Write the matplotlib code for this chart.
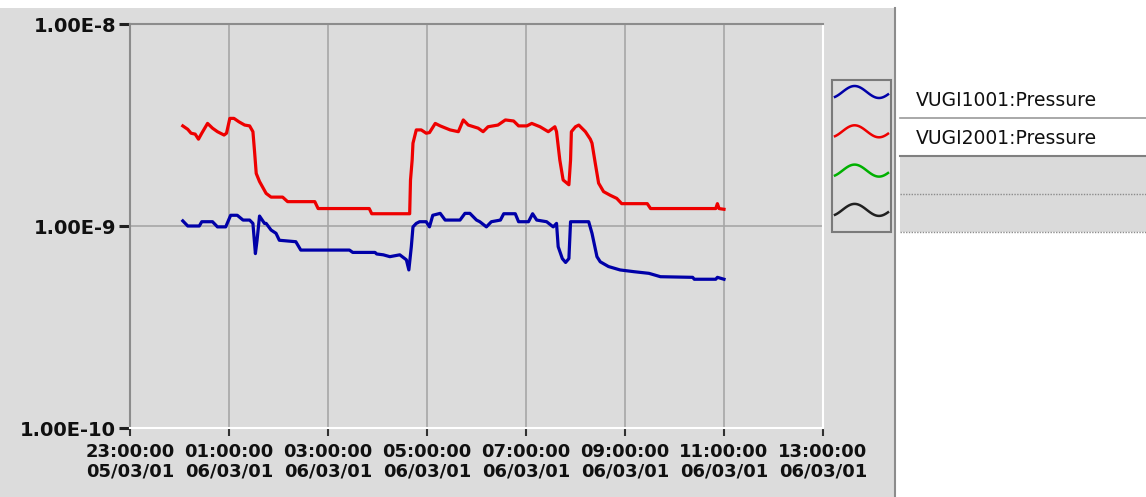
import numpy as np
import pandas as pd
import matplotlib
matplotlib.use("Agg")
import matplotlib.pyplot as plt
import matplotlib.dates as mdates
from matplotlib.patches import Rectangle
from matplotlib.ticker import FixedLocator, FuncFormatter, NullLocator

plt.rcParams["font.family"] = ["DejaVu Sans"]
plt.rcParams["hatch.color"] = "#9a9a9a"
plt.rcParams["hatch.linewidth"] = 0.8

DAY = "2001-03-06 "
series_names = ["VUGI1001:Pressure", "VUGI2001:Pressure"]
swatch_colors = ["#0000a8", "#ee0000", "#00b000", "#202020"]

# VUGI1001 (blue), values in units of 1e-9
vugi1001_times = ["00:04", "00:10", "00:24", "00:27", "00:40", "00:46", "00:56", "01:02",
                  "01:10", "01:17", "01:25", "01:29", "01:32", "01:34", "01:37", "01:43",
                  "01:45", "01:51", "01:57", "02:01", "02:21", "02:27", "03:26", "03:30",
                  "03:57", "03:59", "04:07", "04:15", "04:27", "04:33", "04:35", "04:38",
                  "04:41", "04:43", "04:47", "04:51", "04:59", "05:03", "05:07", "05:16",
                  "05:22", "05:40", "05:46", "05:52", "06:00", "06:04", "06:12", "06:18",
                  "06:29", "06:33", "06:47", "06:51", "07:03", "07:08", "07:13", "07:25",
                  "07:33", "07:37", "07:39", "07:44", "07:48", "07:52", "07:54", "08:16",
                  "08:20", "08:26", "08:30", "08:40", "08:54", "09:11", "09:29", "09:43",
                  "10:22", "10:24", "10:50", "10:52", "11:00"]
vugi1001_e9 = [1.06, 1.00, 1.00, 1.05, 1.05, 0.99, 0.99, 1.13,
               1.13, 1.07, 1.07, 1.03, 0.73, 0.85, 1.12, 1.03,
               1.03, 0.955, 0.92, 0.85, 0.836, 0.76, 0.76, 0.74,
               0.74, 0.727, 0.72, 0.705, 0.72, 0.69, 0.68, 0.606,
               0.79, 0.99, 1.03, 1.05, 1.05, 0.99, 1.13, 1.155,
               1.07, 1.07, 1.155, 1.155, 1.07, 1.05, 0.99, 1.05,
               1.07, 1.15, 1.15, 1.05, 1.05, 1.15, 1.07, 1.05,
               0.99, 1.03, 0.79, 0.69, 0.66, 0.69, 1.05, 1.05,
               0.92, 0.705, 0.665, 0.63, 0.606, 0.594, 0.583, 0.561,
               0.557, 0.545, 0.545, 0.557, 0.545]

# VUGI2001 (red), values in units of 1e-9
vugi2001_times = ["00:04", "00:10", "00:14", "00:19", "00:23", "00:27", "00:34", "00:40",
                  "00:46", "00:54", "00:57", "01:01", "01:06", "01:12", "01:19", "01:25",
                  "01:29", "01:31", "01:33", "01:37", "01:45", "01:51", "02:05", "02:11",
                  "02:44", "02:48", "03:50", "03:53", "04:39", "04:40", "04:42", "04:43",
                  "04:47", "04:53", "04:59", "05:03", "05:10", "05:16", "05:28", "05:38",
                  "05:44", "05:50", "06:02", "06:08", "06:14", "06:26", "06:35", "06:45",
                  "06:51", "07:01", "07:07", "07:17", "07:27", "07:35", "07:37", "07:41",
                  "07:45", "07:52", "07:54", "07:55", "08:00", "08:04", "08:06", "08:12",
                  "08:18", "08:20", "08:24", "08:28", "08:34", "08:42", "08:50", "08:56",
                  "09:27", "09:31", "10:50", "10:52", "10:54", "11:00"]
vugi2001_e9 = [3.13, 3.01, 2.88, 2.85, 2.69, 2.88, 3.22, 3.05,
               2.93, 2.82, 2.88, 3.41, 3.41, 3.28, 3.16, 3.13,
               2.93, 2.33, 1.82, 1.66, 1.45, 1.39, 1.39, 1.32,
               1.32, 1.22, 1.22, 1.15, 1.15, 1.69, 2.12, 2.57,
               2.99, 2.99, 2.88, 2.90, 3.22, 3.13, 2.99, 2.93,
               3.35, 3.16, 3.05, 2.93, 3.10, 3.16, 3.35, 3.31,
               3.13, 3.13, 3.22, 3.10, 2.93, 3.10, 2.93, 2.12,
               1.69, 1.60, 2.12, 2.93, 3.10, 3.16, 3.10, 2.93,
               2.69, 2.57, 2.04, 1.63, 1.48, 1.42, 1.37, 1.29,
               1.29, 1.22, 1.22, 1.29, 1.22, 1.21]

W, H = 1146, 497
fig = plt.figure(figsize=(W / 100, H / 100), dpi=100, facecolor="white")

# background panels drawn in pixel coordinates
bg = fig.add_axes([0, 0, 1, 1], zorder=0)
bg.set_xlim(0, W)
bg.set_ylim(H, 0)
bg.axis("off")
bg.add_patch(Rectangle((0, 8), 895, H - 8, facecolor="#dcdcdc", edgecolor="none"))
bg.plot([895, 895], [8, H], color="#8c8c8c", lw=1.5)

# legend swatches
bg.add_patch(Rectangle((832, 80), 59, 152, facecolor="#dcdcdc", edgecolor="#7a7a7a", lw=1.5))
t = np.linspace(0, 1, 80)
for i, c in enumerate(swatch_colors):
    yc = 92 + i * 39.3
    bg.plot(835 + 53 * t, yc - 6 * np.cos(2 * np.pi * (t - 0.37) / 0.92), color=c, lw=1.8)

# legend labels
for i, name in enumerate(series_names):
    bg.text(916, 100 + i * 38, name, fontsize=13.5, va="center", ha="left", color="#101010")
bg.plot([900, W], [118, 118], color="#9a9a9a", lw=1.2)
bg.add_patch(Rectangle((900, 157), W - 900, 75, facecolor="#dadada", edgecolor="none", hatch="......."))
bg.plot([900, W], [156, 156], color="#808080", lw=1.5)
bg.plot([900, W], [193.5, 193.5], color="#8c8c8c", lw=1, ls=(0, (1, 1)))
bg.plot([900, W], [232, 232], color="#8c8c8c", lw=1, ls=(0, (1, 1)))

# main chart
ax = fig.add_axes([130 / W, 69 / H, 693 / W, 404 / H], zorder=1)
ax.set_facecolor("#dcdcdc")
ax.set_yscale("log")
ax.set_ylim(1e-10, 1e-8)
ax.set_xlim(pd.Timestamp("2001-03-05 23:00"), pd.Timestamp("2001-03-06 13:00"))

t1 = pd.to_datetime([DAY + s for s in vugi1001_times])
t2 = pd.to_datetime([DAY + s for s in vugi2001_times])
ax.plot(t1, np.array(vugi1001_e9) * 1e-9, color="#0000a8", lw=2.3, zorder=3)
ax.plot(t2, np.array(vugi2001_e9) * 1e-9, color="#ee0000", lw=2.3, zorder=3)

ax.set_xticks(pd.date_range("2001-03-05 23:00", "2001-03-06 13:00", freq="2h"))
ax.xaxis.set_major_formatter(mdates.DateFormatter("%H:%M:%S\n%d/%m/%y"))
ax.yaxis.set_major_locator(FixedLocator([1e-10, 1e-9, 1e-8]))
ax.yaxis.set_minor_locator(NullLocator())
ax.yaxis.set_major_formatter(FuncFormatter(lambda v, p: f"{v:.2E}".replace("E-0", "E-")))

ax.grid(True, color="#a6a6a6", lw=1.2)
ax.set_axisbelow(True)
for side in ["top", "left"]:
    ax.spines[side].set_color("#8c8c8c")
    ax.spines[side].set_linewidth(1.5)
for side in ["bottom", "right"]:
    ax.spines[side].set_color("white")
    ax.spines[side].set_linewidth(1.5)

ax.tick_params(axis="x", length=6, width=1.5, color="#303030", pad=5,
               labelsize=13, labelcolor="#101010")
ax.tick_params(axis="y", length=8, width=2.2, color="#202020", pad=2,
               labelsize=14, labelcolor="#101010")
for tick in ax.xaxis.get_major_ticks():
    tick.label1.set_fontweight("bold")
    tick.label1.set_linespacing(1.1)
for tick in ax.yaxis.get_major_ticks():
    tick.label1.set_fontweight("bold")

fig.savefig("out.png", dpi=100, facecolor="white")
